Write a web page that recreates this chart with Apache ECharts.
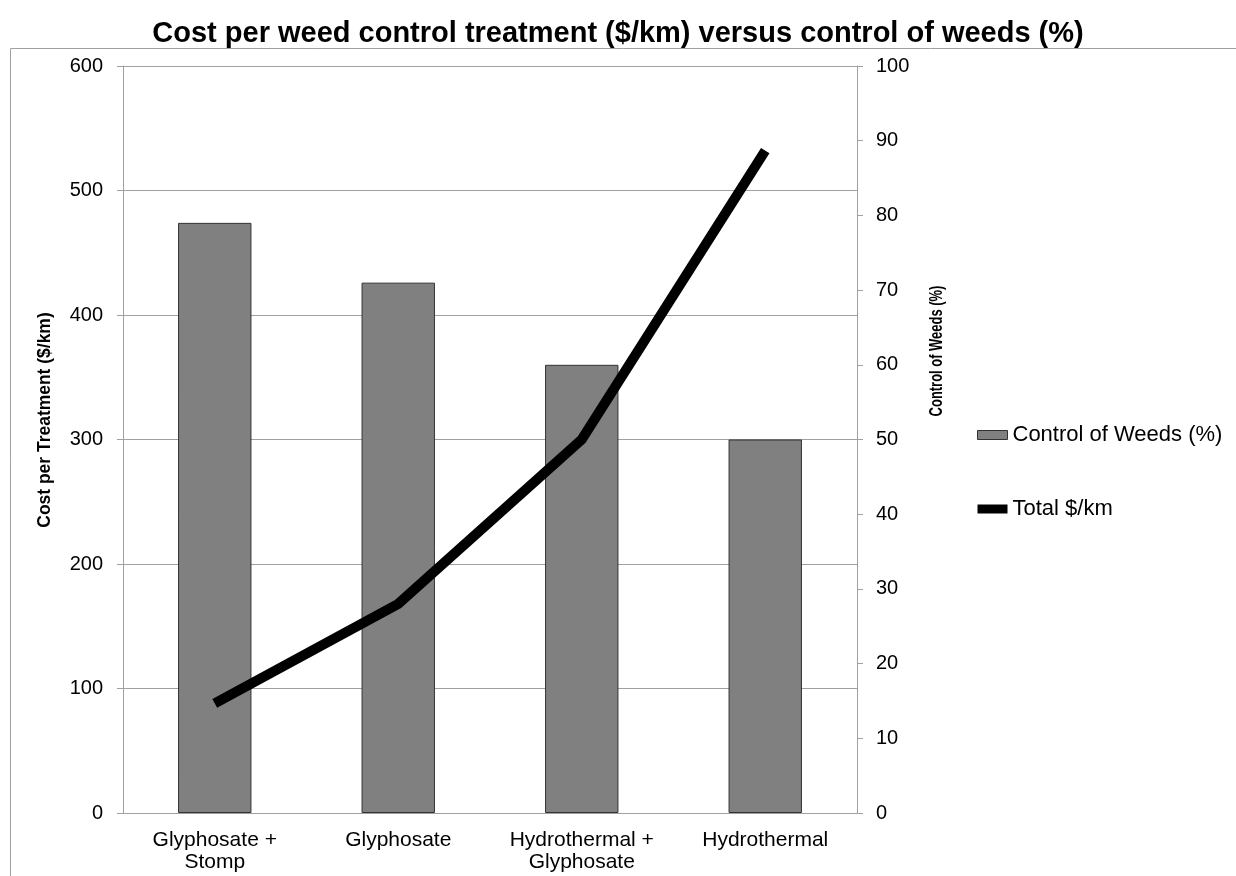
<!DOCTYPE html>
<html>
<head>
<meta charset="utf-8">
<script src="https://cdn.jsdelivr.net/npm/echarts@6/dist/echarts.min.js"></script>
<style>
html,body{margin:0;padding:0;background:#fff;}
#chart{width:1236px;height:876px;}
</style>
</head>
<body>
<div id="chart"></div>
<script>
const categories = ['Glyphosate +\nStomp', 'Glyphosate', 'Hydrothermal +\nGlyphosate', 'Hydrothermal'];
const controlOfWeeds = [79, 71, 60, 50];      // %, right axis (bars)
const totalCostPerKm = [88, 168, 300, 532];   // $/km, left axis (line)
const costAxis = { min: 0, max: 600, interval: 100 };
const pctAxis = { min: 0, max: 100, interval: 10 };
const seriesNames = ['Control of Weeds (%)', 'Total $/km'];
const titleText = 'Cost per weed control treatment ($/km) versus control of weeds (%)';
const leftAxisTitle = 'Cost per Treatment ($/km)';
const rightAxisTitle = 'Control of Weeds (%)';

const FONT = '"Liberation Sans", Arial, Helvetica, sans-serif';
const GRAY = '#a0a0a0';

const chart = echarts.init(document.getElementById('chart'));
chart.setOption({
  backgroundColor: '#fff',
  animation: false,
  textStyle: { fontFamily: FONT, color: '#000' },
  title: {
    text: titleText,
    left: 'center',
    top: 14,
    textStyle: { fontFamily: FONT, fontSize: 29, fontWeight: 'bold', color: '#000' }
  },
  graphic: [
    {
      type: 'rect', silent: true, z: -1,
      shape: { x: 10.5, y: 48.5, width: 1300, height: 900 },
      style: { fill: 'none', stroke: GRAY, lineWidth: 1 }
    },
    {
      type: 'text', x: 45, y: 420, rotation: Math.PI / 2, scaleX: 0.97,
      style: { text: leftAxisTitle, fontFamily: FONT, fontSize: 18, fontWeight: 'bold', fill: '#000', align: 'center', verticalAlign: 'middle' }
    },
    {
      type: 'text', x: 937, y: 351, rotation: Math.PI / 2, scaleX: 0.72,
      style: { text: rightAxisTitle, fontFamily: FONT, fontSize: 18, fontWeight: 'bold', fill: '#000', align: 'center', verticalAlign: 'middle' }
    }
  ],
  legend: {
    orient: 'vertical',
    left: 972,
    top: 419,
    itemWidth: 30,
    itemHeight: 9,
    itemGap: 52,
    textStyle: { fontFamily: FONT, fontSize: 22, color: '#000' },
    data: [
      { name: seriesNames[0], icon: 'rect', itemStyle: { color: '#808080', borderColor: '#333', borderWidth: 1 } },
      { name: seriesNames[1], icon: 'rect', itemStyle: { color: '#000' } }
    ]
  },
  grid: { left: 123, right: 379, top: 66, bottom: 63, containLabel: false },
  xAxis: {
    type: 'category',
    data: categories,
    boundaryGap: true,
    axisLine: { show: true, lineStyle: { color: GRAY, width: 1 } },
    axisTick: { show: false },
    axisLabel: { interval: 0, margin: 16, fontFamily: FONT, fontSize: 21, color: '#000', lineHeight: 22 },
    splitLine: { show: false }
  },
  yAxis: [
    {
      type: 'value',
      position: 'left',
      min: costAxis.min, max: costAxis.max, interval: costAxis.interval,
      axisLine: { show: true, lineStyle: { color: GRAY, width: 1 } },
      axisTick: { show: true, inside: false, length: 6, lineStyle: { color: GRAY } },
      axisLabel: { margin: 20, fontFamily: FONT, fontSize: 20, color: '#000' },
      splitLine: { show: true, lineStyle: { color: GRAY, width: 1, type: 'solid' } }
    },
    {
      type: 'value',
      position: 'right',
      min: pctAxis.min, max: pctAxis.max, interval: pctAxis.interval,
      axisLine: { show: true, lineStyle: { color: GRAY, width: 1 } },
      axisTick: { show: true, inside: false, length: 6, lineStyle: { color: GRAY } },
      axisLabel: { margin: 19, fontFamily: FONT, fontSize: 20, color: '#000' },
      splitLine: { show: false }
    }
  ],
  series: [
    {
      name: seriesNames[0],
      type: 'bar',
      yAxisIndex: 1,
      data: controlOfWeeds,
      barWidth: '40%',
      itemStyle: { color: '#808080', borderColor: '#333', borderWidth: 1 },
      z: 2
    },
    {
      name: seriesNames[1],
      type: 'line',
      yAxisIndex: 0,
      data: totalCostPerKm,
      showSymbol: false,
      symbol: 'none',
      lineStyle: { color: '#000', width: 10, cap: 'butt', join: 'miter' },
      itemStyle: { color: '#000' },
      z: 3
    }
  ]
});
</script>
</body>
</html>
